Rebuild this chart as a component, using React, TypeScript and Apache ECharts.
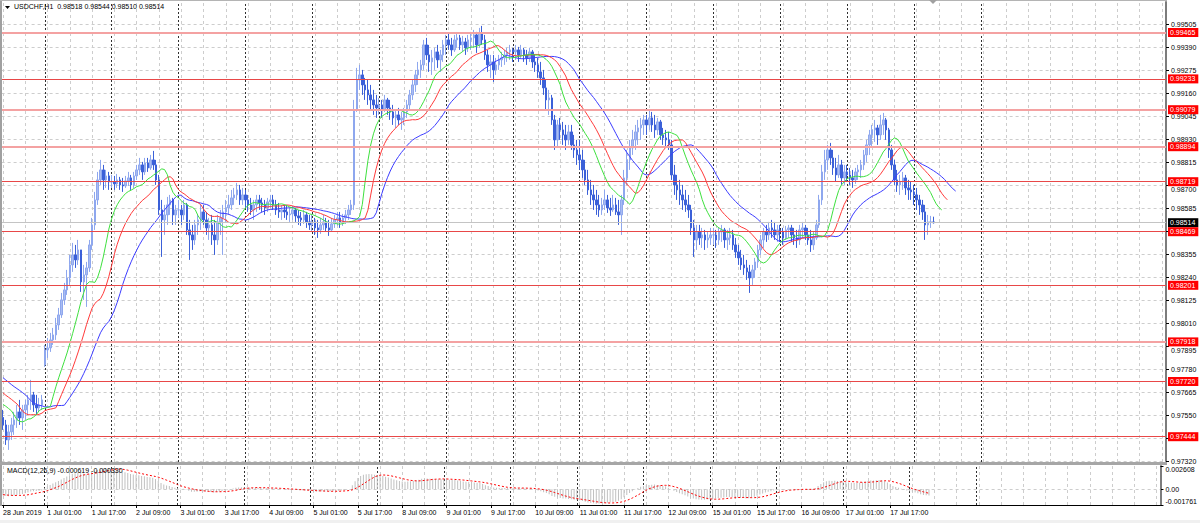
import React, { useEffect, useRef } from 'react';
import * as echarts from 'echarts';

// ---------------- DATA (prices x 100000) ----------------
// hourly closes before the first visible bar (warm-up for the indicators)
const PRE_CLOSE = [
  97820, 97830, 97810, 97840, 97850, 97830, 97820, 97840, 97860, 97850,
  97830, 97840, 97820, 97810, 97830, 97840, 97820, 97800, 97810, 97790,
  97780, 97790, 97770, 97750, 97760, 97740, 97720, 97700, 97690, 97670,
  97640, 97620, 97600, 97590, 97580, 97570, 97565, 97570, 97560, 97540,
];

const HIGH = [
  // 28 Jun
  97578, 97528, 97503, 97538, 97568, 97603, 97628, 97603, 97628, 97653, 97728, 97668, 97653, 97638, 97653,
  // 1 Jul
  97903, 97938, 97963, 97988, 98038, 98088, 98163, 98213, 98278, 98353, 98413, 98403, 98428, 98378, 98303, 98318, 98428, 98538, 98668, 98768, 98828, 98803, 98778, 98768,
  // 2 Jul
  98753, 98748, 98758, 98743, 98738, 98748, 98768, 98753, 98768, 98803, 98838, 98818, 98838, 98838, 98853, 98873, 98828, 98753, 98628, 98603, 98643, 98653, 98638, 98603,
  // 3 Jul
  98628, 98603, 98628, 98613, 98528, 98503, 98528, 98553, 98603, 98603, 98568, 98538, 98553, 98528, 98553, 98578, 98603, 98628, 98653, 98678, 98688, 98713, 98703, 98688,
  // 4 Jul
  98678, 98653, 98638, 98628, 98653, 98653, 98638, 98628, 98638, 98653, 98653, 98628, 98613, 98603, 98603, 98603, 98588, 98598, 98588, 98578, 98568, 98578, 98568, 98553,
  // 5 Jul
  98553, 98538, 98528, 98538, 98553, 98538, 98528, 98538, 98553, 98568, 98568, 98558, 98578, 98603, 98628, 99128, 99288, 99303, 99278, 99238, 99228, 99203, 99178, 99153,
  // 8 Jul
  99138, 99128, 99153, 99138, 99128, 99103, 99078, 99088, 99068, 99088, 99128, 99178, 99228, 99278, 99318, 99328, 99428, 99438, 99403, 99378, 99388, 99403, 99378, 99428,
  // 9 Jul
  99453, 99463, 99438, 99453, 99463, 99453, 99448, 99438, 99453, 99468, 99478, 99468, 99488, 99498, 99453, 99378, 99353, 99353, 99338, 99353, 99368, 99378, 99388, 99403,
  // 10 Jul
  99388, 99403, 99393, 99403, 99388, 99378, 99388, 99378, 99353, 99338, 99318, 99278, 99228, 99178, 99153, 99053, 99028, 99038, 99018, 99003, 99003, 99003, 98953, 98928,
  // 11 Jul
  98928, 98878, 98828, 98778, 98728, 98703, 98678, 98653, 98638, 98678, 98653, 98638, 98653, 98638, 98628, 98653, 98778, 98878, 98928, 98978, 99003, 99028, 99038, 99053,
  // 12 Jul
  99053, 99078, 99068, 99053, 99038, 99028, 98988, 98978, 98968, 98928, 98803, 98753, 98728, 98703, 98678, 98653, 98603, 98528, 98503, 98503, 98488, 98478, 98468, 98488,
  // 15 Jul
  98488, 98478, 98488, 98503, 98488, 98478, 98488, 98478, 98438, 98403, 98378, 98353, 98328, 98303, 98303, 98338, 98403, 98453, 98488, 98503, 98518, 98528, 98518, 98503,
  // 16 Jul
  98503, 98488, 98498, 98503, 98503, 98488, 98478, 98503, 98518, 98503, 98488, 98478, 98468, 98528, 98653, 98803, 98878, 98903, 98913, 98878, 98838, 98853, 98828, 98803,
  // 17 Jul
  98803, 98788, 98778, 98788, 98803, 98828, 98878, 98928, 98978, 99003, 99028, 99003, 99053, 99063, 99038, 98988, 98903, 98828, 98778, 98753, 98768, 98753, 98728, 98718,
  // 18 Jul
  98703, 98688, 98653, 98628, 98603, 98553, 98548, 98544,
];

const LOW = [
  // 28 Jun
  97478, 97403, 97378, 97428, 97453, 97488, 97503, 97478, 97528, 97553, 97578, 97568, 97553, 97568, 97578,
  // 1 Jul
  97793, 97838, 97868, 97903, 97928, 97978, 98038, 98103, 98153, 98203, 98268, 98288, 98303, 98168, 98128, 98093, 98268, 98378, 98478, 98603, 98703, 98678, 98688, 98678,
  // 2 Jul
  98688, 98678, 98688, 98678, 98668, 98688, 98698, 98678, 98688, 98728, 98753, 98728, 98753, 98768, 98778, 98778, 98703, 98553, 98343, 98453, 98503, 98553, 98503, 98503,
  // 3 Jul
  98538, 98503, 98528, 98453, 98328, 98378, 98403, 98453, 98478, 98503, 98453, 98428, 98403, 98353, 98403, 98453, 98353, 98518, 98553, 98578, 98603, 98628, 98603, 98603,
  // 4 Jul
  98588, 98568, 98553, 98528, 98568, 98578, 98568, 98553, 98568, 98588, 98578, 98553, 98538, 98528, 98538, 98528, 98518, 98528, 98518, 98503, 98498, 98508, 98488, 98478,
  // 5 Jul
  98468, 98453, 98438, 98458, 98478, 98468, 98448, 98468, 98488, 98498, 98488, 98498, 98508, 98528, 98553, 98578, 99068, 99178, 99153, 99128, 99103, 99078, 99053, 99038,
  // 8 Jul
  99053, 99038, 99068, 99053, 99028, 99003, 98988, 99003, 98978, 99003, 99038, 99078, 99128, 99168, 99203, 99238, 99278, 99328, 99268, 99253, 99278, 99288, 99268, 99318,
  // 9 Jul
  99353, 99378, 99348, 99368, 99388, 99378, 99368, 99353, 99368, 99378, 99388, 99363, 99388, 99403, 99328, 99268, 99238, 99218, 99253, 99278, 99293, 99303, 99318, 99328,
  // 10 Jul
  99318, 99328, 99318, 99338, 99318, 99303, 99318, 99288, 99268, 99238, 99203, 99153, 99078, 99053, 99003, 98878, 98888, 98928, 98903, 98878, 98903, 98878, 98838, 98803,
  // 11 Jul
  98778, 98738, 98703, 98653, 98603, 98578, 98553, 98543, 98553, 98578, 98563, 98548, 98568, 98553, 98503, 98453, 98603, 98703, 98778, 98853, 98878, 98903, 98928, 98953,
  // 12 Jul
  98953, 98978, 98968, 98938, 98953, 98928, 98903, 98888, 98878, 98728, 98653, 98628, 98603, 98578, 98568, 98538, 98453, 98343, 98378, 98403, 98388, 98378, 98388, 98403,
  // 15 Jul
  98403, 98388, 98403, 98418, 98388, 98378, 98403, 98378, 98338, 98303, 98278, 98253, 98228, 98163, 98203, 98238, 98288, 98353, 98388, 98418, 98428, 98438, 98428, 98418,
  // 16 Jul
  98418, 98403, 98428, 98438, 98418, 98403, 98388, 98403, 98438, 98428, 98403, 98368, 98378, 98428, 98488, 98603, 98728, 98778, 98803, 98753, 98718, 98738, 98703, 98703,
  // 17 Jul
  98718, 98703, 98688, 98708, 98728, 98738, 98778, 98818, 98853, 98888, 98918, 98903, 98928, 98953, 98928, 98838, 98778, 98703, 98668, 98653, 98678, 98653, 98628, 98628,
  // 18 Jul
  98603, 98578, 98553, 98528, 98428, 98453, 98488, 98510,
];

const CLOSE = [
  // 28 Jun
  97503, 97428, 97468, 97503, 97528, 97568, 97538, 97578, 97603, 97628, 97653, 97603, 97588, 97603, 97628,
  // 1 Jul
  97878, 97888, 97928, 97953, 98003, 98053, 98128, 98178, 98238, 98303, 98353, 98328, 98378, 98218, 98253, 98288, 98403, 98503, 98628, 98728, 98778, 98728, 98748, 98718,
  // 2 Jul
  98718, 98708, 98728, 98703, 98698, 98723, 98738, 98703, 98748, 98778, 98803, 98768, 98813, 98788, 98828, 98803, 98728, 98578, 98528, 98553, 98603, 98628, 98553, 98578,
  // 3 Jul
  98578, 98553, 98603, 98478, 98453, 98428, 98503, 98528, 98568, 98528, 98488, 98503, 98453, 98428, 98518, 98538, 98568, 98588, 98603, 98638, 98653, 98678, 98628, 98653,
  // 4 Jul
  98628, 98603, 98578, 98603, 98628, 98613, 98603, 98588, 98618, 98628, 98603, 98578, 98568, 98578, 98568, 98553, 98558, 98578, 98548, 98538, 98528, 98553, 98518, 98503,
  // 5 Jul
  98518, 98488, 98478, 98503, 98518, 98488, 98478, 98508, 98528, 98538, 98518, 98538, 98553, 98578, 98603, 99078, 99228, 99253, 99203, 99178, 99153, 99128, 99103, 99088,
  // 8 Jul
  99103, 99078, 99128, 99088, 99068, 99038, 99053, 99028, 99038, 99068, 99103, 99153, 99203, 99253, 99278, 99303, 99403, 99353, 99318, 99338, 99368, 99328, 99353, 99403,
  // 9 Jul
  99428, 99403, 99378, 99428, 99438, 99403, 99418, 99388, 99428, 99438, 99453, 99403, 99463, 99428, 99353, 99303, 99318, 99278, 99303, 99328, 99338, 99353, 99368, 99378,
  // 10 Jul
  99368, 99378, 99353, 99378, 99353, 99338, 99368, 99318, 99303, 99268, 99238, 99188, 99128, 99138, 99028, 98928, 99003, 98978, 98953, 98928, 98968, 98903, 98878, 98853,
  // 11 Jul
  98828, 98778, 98728, 98678, 98653, 98628, 98603, 98578, 98603, 98628, 98588, 98578, 98603, 98568, 98553, 98628, 98738, 98828, 98888, 98928, 98968, 98988, 99003, 99028,
  // 12 Jul
  99003, 99038, 99003, 98978, 99018, 98953, 98938, 98928, 98903, 98753, 98703, 98678, 98653, 98628, 98603, 98578, 98488, 98428, 98468, 98438, 98453, 98428, 98438, 98453,
  // 15 Jul
  98453, 98428, 98468, 98478, 98428, 98438, 98453, 98403, 98368, 98338, 98303, 98288, 98268, 98238, 98278, 98318, 98378, 98428, 98468, 98453, 98488, 98478, 98453, 98478,
  // 16 Jul
  98468, 98438, 98478, 98488, 98453, 98438, 98428, 98478, 98488, 98453, 98428, 98403, 98438, 98503, 98628, 98768, 98828, 98878, 98838, 98788, 98753, 98803, 98738, 98768,
  // 17 Jul
  98753, 98738, 98728, 98768, 98778, 98803, 98853, 98903, 98953, 98978, 98988, 98953, 99003, 99028, 98978, 98878, 98803, 98728, 98703, 98718, 98738, 98688, 98678, 98668,
  // 18 Jul
  98653, 98628, 98603, 98568, 98503, 98518, 98518, 98514,
];

// opens that differ from the previous close (weekend gap, last bar)
const OPEN_GAPS: Record<number, number> = { 15: 97803, 334: 98518 };

const PRICE_LEVELS = [0.99465, 0.99233, 0.99079, 0.98894, 0.98719, 0.98469, 0.98201, 0.97918, 0.9772, 0.97444];
const THICK_LEVELS = [0.99465, 0.99079, 0.98894, 0.97918];
const BID = 0.98514;

const PRICE_TICKS = [
  0.9732, 0.97435, 0.9755, 0.97665, 0.9778, 0.97895, 0.9801, 0.98125, 0.9824, 0.98355,
  0.9847, 0.98585, 0.987, 0.98815, 0.9893, 0.99045, 0.9916, 0.99275, 0.9939, 0.99505,
];
// tick labels that sit behind a level tag (covered) or just peek out below one
const COVERED_TICKS = [0.97435, 0.9847];
const PEEKING_TICKS = [0.987, 0.97895];
const Y_MIN = 0.973175;
const Y_MAX = 0.996175;

const MACD_TICK_VALUES = [-0.001761, 0, 0.002608];
const MACD_TICK_LABELS = ['-0.001761', '0.00', '0.002608'];

const TIME_LABELS = [
  '28 Jun 2019', '1 Jul 01:00', '1 Jul 17:00', '2 Jul 09:00', '3 Jul 01:00', '3 Jul 17:00',
  '4 Jul 09:00', '5 Jul 01:00', '5 Jul 17:00', '8 Jul 09:00', '9 Jul 01:00', '9 Jul 17:00',
  '10 Jul 09:00', '11 Jul 01:00', '11 Jul 17:00', '12 Jul 09:00', '15 Jul 01:00', '15 Jul 17:00',
  '16 Jul 09:00', '17 Jul 01:00', '17 Jul 17:00',
];
const TIME_LABEL_BARS = [0, 16, 32, 48, 64, 80, 96, 112, 128, 144, 160, 176, 192, 208, 224, 240, 256, 272, 288, 304, 320];
const DAY_START_BARS = [15, 39, 63, 87, 111, 135, 159, 183, 207, 231, 255, 279, 303, 327, 351];

const TITLE = 'USDCHF,H1  0.98518 0.98544 0.98510 0.98514';
const MACD_TITLE = 'MACD(12,26,9) -0.000619 -0.000330';

// ---------------- layout / style ----------------
const SCALE = 100000;
const SLOTS = 418;
const GRID_LEFT = 1.6;
const GRID_RIGHT = 34;
const MAIN_TOP = 2;
const MAIN_H = 460;
const MACD_TOP = 466;
const MACD_H = 39;
const FONT = 'Liberation Sans';
const UP_FILL = '#a9bcf2';
const UP_BORDER = '#8ea7ee';
const DOWN_FILL = '#3b60d8';
const DOWN_BORDER = '#3b60d8';
const LIGHT_GRID = { color: '#cdcdcd', type: [3, 3], width: 1 };
const SEP_GRID = { color: '#303030', type: [2, 2], width: 1 };

function smma(src: number[], p: number): (number | null)[] {
  const out: (number | null)[] = [];
  let v = 0;
  for (let j = 0; j < src.length; j++) {
    if (j < p - 1) { out.push(null); continue; }
    if (j === p - 1) {
      let s = 0;
      for (let k = 0; k < p; k++) s += src[k];
      v = s / p;
    } else {
      v = (v * (p - 1) + src[j]) / p;
    }
    out.push(v);
  }
  return out;
}

function ema(src: number[], p: number): number[] {
  const a = 2 / (p + 1);
  const out: number[] = [];
  let v = src[0];
  src.forEach((x, j) => {
    v = j === 0 ? x : v + a * (x - v);
    out.push(v);
  });
  return out;
}

const near = (list: number[], v: number) => list.some((t) => Math.abs(t - v) < 1e-7);

function buildOption() {
  const N = CLOSE.length;
  const PRE_N = PRE_CLOSE.length;
  const cats = Array.from({ length: SLOTS }, (_, i) => 's' + i);

  const candles = CLOSE.map((c, i) => {
    const o = OPEN_GAPS[i] ?? (i === 0 ? PRE_CLOSE[PRE_N - 1] : CLOSE[i - 1]);
    const hi = Math.max(HIGH[i], o, c);
    const lo = Math.min(LOW[i], o, c);
    return [o / SCALE, c / SCALE, lo / SCALE, hi / SCALE];
  });

  // Alligator (SMMA of median price, shifted forward)
  const med = [...PRE_CLOSE, ...HIGH.map((h, i) => (h + LOW[i]) / 2)];
  const shifted = (s: (number | null)[], shift: number) =>
    Array.from({ length: N + shift }, (_, i) => {
      const v = s[i + PRE_N - shift];
      return v == null ? null : v / SCALE;
    });
  const jaw = shifted(smma(med, 13), 8);
  const teeth = shifted(smma(med, 8), 5);
  const lips = shifted(smma(med, 5), 3);

  // MACD(12,26,9)
  const allClose = [...PRE_CLOSE, ...CLOSE];
  const e12 = ema(allClose, 12);
  const e26 = ema(allClose, 26);
  const macdAll = e12.map((v, j) => (v - e26[j]) / SCALE);
  const sigAll = macdAll.map((_, j) => {
    if (j < 8) return null;
    let s = 0;
    for (let k = j - 8; k <= j; k++) s += macdAll[k];
    return s / 9;
  });
  const macd = macdAll.slice(PRE_N);
  const signal = sigAll.slice(PRE_N);

  const labelAt: Record<number, string> = {};
  TIME_LABEL_BARS.forEach((b, k) => { labelAt[b] = TIME_LABELS[k]; });

  const lightV: any[] = [];
  for (let i = 0; i < SLOTS; i += 8) lightV.push({ xAxis: cats[i] });
  const sepV = DAY_START_BARS.map((b) => ({ xAxis: cats[b] }));
  const hGrid = PRICE_TICKS.map((v) => ({ yAxis: v }));

  const mk = (data: any[], lineStyle: any, z: number) => ({
    silent: true, symbol: ['none', 'none'], z, precision: 8, animation: false,
    label: { show: false }, lineStyle, data,
  });

  const levelLabel = (text: string, bg: string) => ({
    show: true, position: 'end', distance: 2, formatter: text,
    backgroundColor: bg, color: '#ffffff', padding: [1, 3, 1, 2],
    fontSize: 7, fontFamily: FONT,
  });
  const levelLines: any[] = [
    {
      yAxis: BID,
      lineStyle: { color: '#c4c4c4', width: 1, type: 'solid' },
      label: levelLabel(BID.toFixed(5), '#000000'),
    },
    ...PRICE_LEVELS.map((v) => {
      const thick = THICK_LEVELS.includes(v);
      return {
        yAxis: v,
        lineStyle: { color: thick ? '#f4a2a2' : '#e84848', width: thick ? 2 : 1, type: 'solid' },
        label: levelLabel(v.toFixed(5), '#ff0000'),
      };
    }),
  ];

  const axisText = { color: '#000', fontSize: 7, fontFamily: FONT };
  const shownTicks = PRICE_TICKS.filter((v) => !near(COVERED_TICKS, v));

  return {
    animation: false,
    backgroundColor: '#ffffff',
    grid: [
      { left: GRID_LEFT, right: GRID_RIGHT, top: MAIN_TOP, height: MAIN_H },
      { left: GRID_LEFT, right: GRID_RIGHT, top: MACD_TOP, height: MACD_H },
    ],
    xAxis: [
      {
        type: 'category', gridIndex: 0, data: cats, boundaryGap: true,
        axisLine: { show: false }, axisTick: { show: false }, axisLabel: { show: false }, splitLine: { show: false },
      },
      {
        type: 'category', gridIndex: 1, data: cats, boundaryGap: true,
        axisLine: { show: true, onZero: false, lineStyle: { color: '#000', width: 1 } },
        axisTick: {
          show: true, alignWithLabel: true, length: 3, lineStyle: { color: '#000' },
          interval: (i: number) => labelAt[i] !== undefined,
        },
        axisLabel: {
          show: true, ...axisText, align: 'left', margin: 4,
          interval: (i: number) => labelAt[i] !== undefined,
          formatter: (_v: string, i: number) => labelAt[i] ?? '',
        },
        splitLine: { show: false },
      },
    ],
    yAxis: [
      {
        type: 'value', gridIndex: 0, position: 'right', min: Y_MIN, max: Y_MAX,
        axisLine: { show: true, lineStyle: { color: '#7c7c7c', width: 2 } },
        axisTick: { show: true, customValues: PRICE_TICKS, length: 3, lineStyle: { color: '#000' } },
        axisLabel: {
          show: true, ...axisText, margin: 5, customValues: shownTicks,
          formatter: (v: number) => (near(PEEKING_TICKS, v) ? `{dn|${v.toFixed(5)}}` : v.toFixed(5)),
          rich: { dn: { ...axisText, padding: [7, 0, 0, 0] } },
        },
        splitLine: { show: false },
      },
      {
        type: 'value', gridIndex: 1, position: 'right', min: MACD_TICK_VALUES[0], max: MACD_TICK_VALUES[2],
        axisLine: { show: true, lineStyle: { color: '#7c7c7c', width: 2 } },
        axisTick: { show: true, customValues: MACD_TICK_VALUES, length: 3, lineStyle: { color: '#000' } },
        axisLabel: {
          show: true, ...axisText, margin: 5, customValues: MACD_TICK_VALUES,
          verticalAlignMinLabel: 'bottom', verticalAlignMaxLabel: 'top',
          formatter: (v: number) => {
            const k = MACD_TICK_VALUES.findIndex((t) => Math.abs(t - v) < 1e-9);
            return k >= 0 ? MACD_TICK_LABELS[k] : '';
          },
        },
        splitLine: { show: false },
      },
    ],
    graphic: [
      { type: 'rect', z: 100, silent: true, shape: { x: 0, y: 0, width: 2, height: 506 }, style: { fill: '#a0a0a0' } },
      { type: 'rect', z: 100, silent: true, shape: { x: 0, y: 0, width: 1167, height: 1 }, style: { fill: '#b4b4b4' } },
      { type: 'rect', z: 100, silent: true, shape: { x: 0, y: 462, width: 1167, height: 3 }, style: { fill: '#a6a6a6' } },
      { type: 'rect', z: 100, silent: true, shape: { x: 0, y: 520, width: 1200, height: 3 }, style: { fill: '#f0f0f0' } },
      { type: 'polygon', z: 100, silent: true, shape: { points: [[929, 0], [937, 0], [933, 4]] }, style: { fill: '#a0a0a0' } },
      { type: 'polygon', z: 100, silent: true, shape: { points: [[5, 6], [10, 6], [7.5, 9]] }, style: { fill: '#000' } },
      {
        type: 'text', z: 100, silent: true, x: 14, y: 3,
        style: { text: TITLE, fill: '#000', fontSize: 7, fontFamily: FONT },
      },
      {
        type: 'text', z: 100, silent: true, x: 7, y: 467,
        style: { text: MACD_TITLE, fill: '#000', fontSize: 7, fontFamily: FONT },
      },
    ],
    series: [
      {
        type: 'candlestick', name: 'USDCHF', xAxisIndex: 0, yAxisIndex: 0, data: candles,
        barWidth: 2, z: 3, silent: true,
        itemStyle: { color: UP_FILL, color0: DOWN_FILL, borderColor: UP_BORDER, borderColor0: DOWN_BORDER, borderWidth: 1 },
        markLine: { silent: true, symbol: ['none', 'none'], z: 5, precision: 8, animation: false, data: levelLines },
      },
      {
        type: 'line', name: 'Jaw', xAxisIndex: 0, yAxisIndex: 0, data: jaw, symbol: 'none', z: 4, silent: true,
        lineStyle: { color: '#3c3cff', width: 1 },
        markLine: mk([...hGrid, ...lightV], LIGHT_GRID, 1),
      },
      {
        type: 'line', name: 'Teeth', xAxisIndex: 0, yAxisIndex: 0, data: teeth, symbol: 'none', z: 4, silent: true,
        lineStyle: { color: '#ff3a3a', width: 1 },
        markLine: mk(sepV, SEP_GRID, 2),
      },
      {
        type: 'line', name: 'Lips', xAxisIndex: 0, yAxisIndex: 0, data: lips, symbol: 'none', z: 4, silent: true,
        lineStyle: { color: '#3ee03e', width: 1 },
      },
      {
        type: 'bar', name: 'MACD', xAxisIndex: 1, yAxisIndex: 1, data: macd, barWidth: 1, z: 3, silent: true,
        itemStyle: { color: '#c0c0c0' },
        markLine: mk([{ yAxis: 0 }, ...lightV], LIGHT_GRID, 1),
      },
      {
        type: 'line', name: 'Signal', xAxisIndex: 1, yAxisIndex: 1, data: signal, symbol: 'none', z: 4, silent: true,
        lineStyle: { color: '#ff0000', width: 1, type: [2, 2] },
        markLine: mk(sepV, SEP_GRID, 2),
      },
    ],
  };
}

export default function App() {
  const ref = useRef<HTMLDivElement>(null);
  useEffect(() => {
    document.body.style.margin = '0';
    const chart = echarts.init(ref.current as HTMLDivElement, null, { renderer: 'svg' });
    chart.setOption(buildOption() as any);
    return () => chart.dispose();
  }, []);
  return <div ref={ref} style={{ width: 1200, height: 523 }} />;
}
